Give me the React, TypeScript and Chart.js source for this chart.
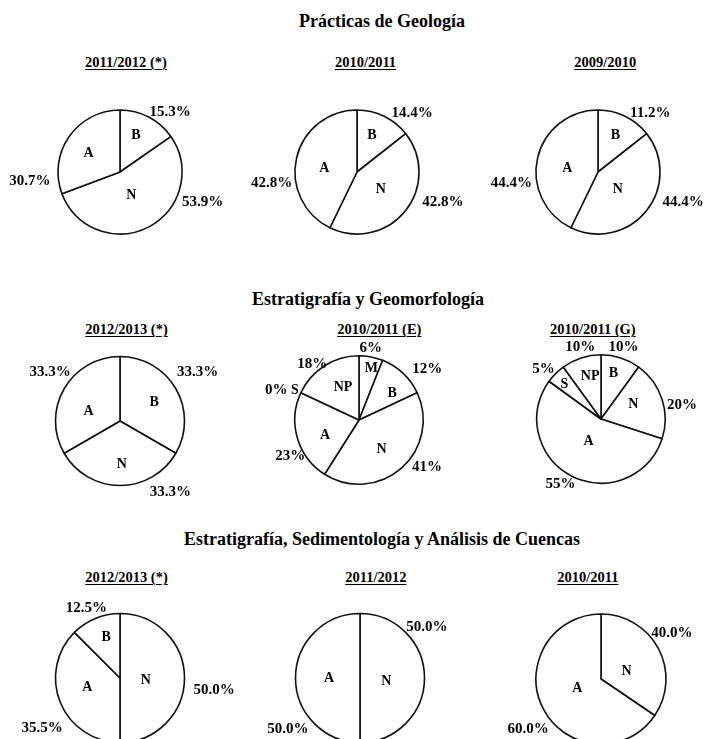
import React, { useEffect, useRef } from "react";
import { Chart, registerables } from "chart.js";

Chart.register(...registerables);

// ---------- DATA ----------
const sectionTitles = [
  "Prácticas de Geología",
  "Estratigrafía y Geomorfología",
  "Estratigrafía, Sedimentología y Análisis de Cuencas",
];

const geoYears = ["2011/2012 (*)", "2010/2011", "2009/2010"];
const egYears = ["2012/2013 (*)", "2010/2011 (E)", "2010/2011 (G)"];
const esaYears = ["2012/2013 (*)", "2011/2012", "2010/2011"];

// Prácticas de Geología
const geo1Cats = ["B", "N", "A"];
const geo1Values = [15.3, 53.9, 30.7];
const geo1Pct = ["15.3%", "53.9%", "30.7%"];

const geo2Cats = ["B", "N", "A"];
const geo2Values = [14.4, 42.8, 42.8];
const geo2Pct = ["14.4%", "42.8%", "42.8%"];

const geo3Cats = ["B", "N", "A"];
const geo3Values = [14.4, 42.8, 42.8];
const geo3Pct = ["11.2%", "44.4%", "44.4%"];

// Estratigrafía y Geomorfología
const eg1Cats = ["B", "N", "A"];
const eg1Values = [33.3, 33.3, 33.3];
const eg1Pct = ["33.3%", "33.3%", "33.3%"];

const eg2Cats = ["M", "B", "N", "A", "S", "NP"];
const eg2Values = [6, 12, 41, 23, 0, 18];
const eg2Pct = ["6%", "12%", "41%", "23%", "0%", "18%"];

const eg3Cats = ["B", "N", "A", "S", "NP"];
const eg3Values = [10, 20, 55, 5, 10];
const eg3Pct = ["10%", "20%", "55%", "5%", "10%"];

// Estratigrafía, Sedimentología y Análisis de Cuencas
const esa1Cats = ["N", "A", "B"];
const esa1Values = [50, 37.5, 12.5];
const esa1Pct = ["50.0%", "35.5%", "12.5%"];

const esa2Cats = ["N", "A"];
const esa2Values = [50, 50];
const esa2Pct = ["50.0%", "50.0%"];

const esa3Cats = ["N", "A"];
const esa3Values = [34.5, 65.5];
const esa3Pct = ["40.0%", "60.0%"];

// ---------- LAYOUT (positions / styles) ----------
const FONT = '"Liberation Serif", "Times New Roman", Times, serif';
const INK = "#000";

// label placement: [angle clockwise from top (deg), distance as fraction of radius]
type Polar = [number, number];

interface PieSpec {
  cats: string[];
  values: number[];
  pct: string[];
  cx: number;
  cy: number;
  r: number;
  pctPos: Polar[];
  catPos: Polar[];
}

const pies: PieSpec[] = [
  {
    cats: geo1Cats, values: geo1Values, pct: geo1Pct, cx: 120, cy: 172, r: 62,
    pctPos: [[40, 1.26], [110.2, 1.42], [263.9, 1.46]],
    catPos: [[23.4, 0.65], [154.5, 0.42], [300.8, 0.59]],
  },
  {
    cats: geo2Cats, values: geo2Values, pct: geo2Pct, cx: 357, cy: 172, r: 62,
    pctPos: [[43.1, 1.3], [109.5, 1.47], [262.7, 1.39]],
    catPos: [[22.1, 0.64], [126.9, 0.48], [276.5, 0.53]],
  },
  {
    cats: geo3Cats, values: geo3Values, pct: geo3Pct, cx: 598, cy: 172, r: 62,
    pctPos: [[41.6, 1.27], [109.7, 1.46], [262.8, 1.41]],
    catPos: [[25.2, 0.66], [132, 0.43], [276.9, 0.5]],
  },
  {
    cats: eg1Cats, values: eg1Values, pct: eg1Pct, cx: 120, cy: 421, r: 64.5,
    pctPos: [[58, 1.42], [144.6, 1.35], [304.7, 1.32]],
    catPos: [[61.7, 0.6], [177.7, 0.67], [287.5, 0.51]],
  },
  {
    cats: eg2Cats, values: eg2Values, pct: eg2Pct, cx: 359, cy: 420, r: 64.2,
    pctPos: [[9.2, 1.14], [53.1, 1.33], [124.8, 1.29], [242.3, 1.21], [289.6, 1.37], [320.2, 1.14]],
    catPos: [[13.7, 0.82], [51.5, 0.66], [142.9, 0.58], [245.8, 0.58], [294.6, 1.1], [333.6, 0.56]],
  },
  {
    cats: eg3Cats, values: eg3Values, pct: eg3Pct, cx: 601, cy: 419, r: 64.2,
    pctPos: [[17.4, 1.17], [80.5, 1.28], [211.8, 1.2], [311.1, 1.19], [343.8, 1.16]],
    catPos: [[15.2, 0.74], [65.9, 0.55], [209.2, 0.4], [313.2, 0.78], [345.8, 0.69]],
  },
  {
    cats: esa1Cats, values: esa1Values, pct: esa1Pct, cx: 120, cy: 678, r: 64.5,
    pctPos: [[97.4, 1.47], [237.1, 1.44], [334.3, 1.2]],
    catPos: [[94.8, 0.4], [253.3, 0.53], [341.2, 0.67]],
  },
  {
    cats: esa2Cats, values: esa2Values, pct: esa2Pct, cx: 360, cy: 678, r: 64.5,
    pctPos: [[52.8, 1.3], [234.7, 1.37]],
    catPos: [[98, 0.41], [269.4, 0.48]],
  },
  {
    cats: esa3Cats, values: esa3Values, pct: esa3Pct, cx: 601, cy: 679, r: 65,
    pctPos: [[57.1, 1.3], [235.5, 1.36]],
    catPos: [[74.1, 0.41], [248.6, 0.39]],
  },
];

const titleLayout = [
  { cx: 382, baseline: 26.7 },
  { cx: 368, baseline: 305 },
  { cx: 382, baseline: 545.5 },
];

const subtitleLayout = [
  { baseline: 66.7, xs: [126, 365.5, 605.3] },
  { baseline: 334.5, xs: [126.5, 379.3, 592.8] },
  { baseline: 582.3, xs: [126.5, 375.8, 587.8] },
];

const TITLE_SIZE = 18;
const SUB_SIZE = 14.5;
const PCT_SIZE = 15;
const CAT_SIZE = 14;
const BASE_RATIO = 0.8375; // baseline offset within a 1em line box for Liberation Serif
const CANVAS = 240;

// ---------- COMPONENTS ----------
function polarPoint(x: number, y: number, r: number, p: Polar) {
  const a = (p[0] * Math.PI) / 180;
  const d = p[1] * r;
  return { px: x + d * Math.sin(a), py: y - d * Math.cos(a) };
}

function PieChart({ spec }: { spec: PieSpec }) {
  const ref = useRef<HTMLCanvasElement | null>(null);

  useEffect(() => {
    if (!ref.current) return;
    const labelPlugin = {
      id: "pieLabels",
      afterDatasetsDraw(chart: any) {
        const ctx = chart.ctx;
        const meta = chart.getDatasetMeta(0);
        ctx.save();
        ctx.fillStyle = INK;
        ctx.textAlign = "center";
        ctx.textBaseline = "middle";
        meta.data.forEach((arc: any, i: number) => {
          const { x, y, outerRadius } = arc.getProps(["x", "y", "outerRadius"], true);
          const c = polarPoint(x, y, outerRadius, spec.catPos[i]);
          ctx.font = `bold ${CAT_SIZE}px ${FONT}`;
          ctx.fillText(spec.cats[i], c.px, c.py);
          const p = polarPoint(x, y, outerRadius, spec.pctPos[i]);
          ctx.font = `bold ${PCT_SIZE}px ${FONT}`;
          ctx.fillText(spec.pct[i], p.px, p.py);
        });
        ctx.restore();
      },
    };

    const chart = new Chart(ref.current, {
      type: "pie",
      data: {
        labels: spec.cats,
        datasets: [
          {
            data: spec.values,
            backgroundColor: "#ffffff",
            borderColor: "#111",
            borderWidth: 1.6,
            radius: spec.r,
          } as any,
        ],
      },
      options: {
        responsive: false,
        animation: false,
        rotation: 0,
        radius: spec.r,
        layout: { padding: 0 },
        events: [],
        plugins: {
          legend: { display: false },
          tooltip: { enabled: false },
          title: { display: false },
        },
      } as any,
      plugins: [labelPlugin],
    });
    return () => chart.destroy();
  }, [spec]);

  return (
    <canvas
      ref={ref}
      width={CANVAS}
      height={CANVAS}
      style={{
        position: "absolute",
        left: Math.round(spec.cx - CANVAS / 2),
        top: Math.round(spec.cy - CANVAS / 2),
      }}
    />
  );
}

function TextAt({
  text, cx, baseline, size, underline,
}: { text: string; cx: number; baseline: number; size: number; underline?: boolean }) {
  return (
    <div
      style={{
        position: "absolute",
        left: cx,
        top: baseline - size * BASE_RATIO,
        transform: "translateX(-50%)",
        whiteSpace: "nowrap",
        fontFamily: FONT,
        fontWeight: "bold",
        fontSize: size,
        lineHeight: `${size}px`,
        color: INK,
        textDecoration: underline ? "underline" : "none",
        textDecorationThickness: underline ? "1px" : undefined,
        textUnderlineOffset: underline ? "2px" : undefined,
      }}
    >
      {text}
    </div>
  );
}

export default function App() {
  const years = [geoYears, egYears, esaYears];
  return (
    <div
      style={{
        position: "fixed",
        left: 0,
        top: 0,
        width: 705,
        height: 739,
        overflow: "hidden",
        background: "#ffffff",
      }}
    >
      {sectionTitles.map((t, i) => (
        <TextAt key={"t" + i} text={t} cx={titleLayout[i].cx} baseline={titleLayout[i].baseline} size={TITLE_SIZE} />
      ))}
      {years.map((row, ri) =>
        row.map((y, ci) => (
          <TextAt
            key={`s${ri}-${ci}`}
            text={y}
            cx={subtitleLayout[ri].xs[ci]}
            baseline={subtitleLayout[ri].baseline}
            size={SUB_SIZE}
            underline
          />
        ))
      )}
      {pies.map((p, i) => (
        <PieChart key={"p" + i} spec={p} />
      ))}
    </div>
  );
}
